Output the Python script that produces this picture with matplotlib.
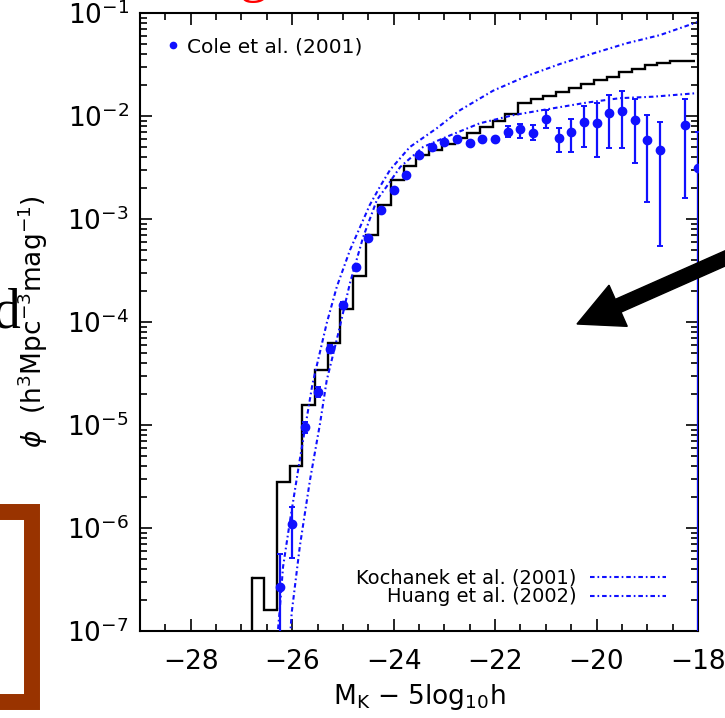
import matplotlib
matplotlib.use('Agg')
import matplotlib.pyplot as plt
from matplotlib.patches import FancyArrow
from matplotlib.lines import Line2D
import numpy as np

# model K-band luminosity function (histogram), bins of 0.25 mag
hist_start = -26.8
hist_width = 0.25
hist_phi = [3.3e-7, 1.6e-7, 2.8e-6, 4.0e-6, 1.56e-5, 3.4e-5, 6.3e-5, 1.34e-4,
            2.8e-4, 7.0e-4, 1.37e-3, 2.4e-3, 3.27e-3, 4.2e-3, 4.7e-3, 5.3e-3,
            6.1e-3, 6.9e-3, 7.8e-3, 8.9e-3, 1.05e-2, 1.33e-2, 1.45e-2, 1.56e-2,
            1.72e-2, 1.86e-2, 2.05e-2, 2.24e-2, 2.41e-2, 2.66e-2, 2.84e-2,
            3.13e-2, 3.24e-2, 3.39e-2, 3.39e-2]

# Cole et al. (2001) data points, with lower / upper error limits
cole_mag = [-26.25, -26.0, -25.75, -25.5, -25.25, -25.0, -24.75, -24.5, -24.25,
            -24.0, -23.75, -23.5, -23.25, -23.0, -22.75, -22.5, -22.25, -22.0,
            -21.75, -21.5, -21.25, -21.0, -20.75, -20.5, -20.25, -20.0, -19.75,
            -19.5, -19.25, -19.0, -18.75, -18.25, -18.0]
cole_phi = [2.7e-7, 1.09e-6, 9.6e-6, 2.1e-5, 5.5e-5, 1.46e-4, 3.4e-4, 6.5e-4,
            1.22e-3, 1.9e-3, 2.67e-3, 4.2e-3, 5.0e-3, 5.6e-3, 5.93e-3, 5.43e-3,
            5.93e-3, 5.93e-3, 7.04e-3, 7.43e-3, 6.9e-3, 9.3e-3, 6.07e-3, 7.04e-3,
            8.8e-3, 8.6e-3, 1.06e-2, 1.12e-2, 9.1e-3, 5.85e-3, 4.68e-3, 8.2e-3,
            3.1e-3]
cole_lo = [1e-9, 5.15e-7, 8.3e-6, 1.85e-5, 5.0e-5, 1.36e-4, 3.2e-4, 6.2e-4,
           1.17e-3, 1.82e-3, 2.55e-3, 4.0e-3, 4.8e-3, 5.4e-3, 5.7e-3, 5.2e-3,
           5.7e-3, 5.7e-3, 6.3e-3, 6.15e-3, 5.85e-3, 7.6e-3, 4.5e-3, 4.45e-3,
           5.04e-3, 3.97e-3, 4.85e-3, 4.85e-3, 3.47e-3, 1.45e-3, 5.5e-4, 1.61e-3,
           1e-9]
cole_hi = [5.6e-7, 1.6e-6, 1.08e-5, 2.35e-5, 6.0e-5, 1.56e-4, 3.6e-4, 6.8e-4,
           1.27e-3, 1.98e-3, 2.8e-3, 4.4e-3, 5.2e-3, 5.8e-3, 6.2e-3, 5.7e-3,
           6.2e-3, 6.2e-3, 8.0e-3, 8.36e-3, 8.2e-3, 1.14e-2, 7.6e-3, 9.35e-3,
           1.26e-2, 1.33e-2, 1.6e-2, 1.75e-2, 1.46e-2, 1.02e-2, 8.7e-3, 1.46e-2,
           7.0e-3]

# Schechter fits
kochanek_mag = [-26.04, -26.01, -25.85, -25.65, -25.45, -25.32, -25.09, -24.86,
                -24.6, -24.33, -24.14, -23.87, -23.42, -22.95, -22.3, -21.64,
                -21.12, -20.85, -20.19, -19.54, -18.88, -18.0]
kochanek_phi = [9e-8, 1.5e-7, 6.6e-7, 2.9e-6, 1.04e-5, 2.7e-5, 7.8e-5, 2.4e-4,
                6.7e-4, 1.53e-3, 2.06e-3, 3.2e-3, 5.0e-3, 6.3e-3, 8.5e-3, 1.02e-2,
                1.13e-2, 1.19e-2, 1.35e-2, 1.49e-2, 1.54e-2, 1.67e-2]
huang_mag = [-26.3, -26.25, -26.18, -26.04, -25.85, -25.6, -25.32, -25.12,
             -24.86, -24.47, -24.27, -24.07, -23.68, -23.15, -22.69, -22.04,
             -21.38, -20.72, -20.06, -19.41, -18.75, -18.0]
huang_phi = [8e-8, 1.5e-7, 4.2e-7, 1.2e-6, 4.6e-6, 2.5e-5, 9.7e-5, 2.2e-4, 5.0e-4,
             1.37e-3, 2.06e-3, 3.0e-3, 5.0e-3, 7.6e-3, 1.14e-2, 1.76e-2, 2.44e-2,
             3.2e-2, 4.06e-2, 5.08e-2, 6.1e-2, 8.2e-2]

blue = '#1010ff'

fig = plt.figure(figsize=(7.25, 7.18), dpi=100)
ax = fig.add_axes([140 / 725, 1 - 631 / 718, 558 / 725, 618 / 718])
ax.set_yscale('log')
ax.set_xlim(-29, -18)
ax.set_ylim(1e-7, 1e-1)

# histogram (step line, first edge dropped down to the axis)
edges = hist_start + hist_width * np.arange(len(hist_phi) + 1)
ax.stairs(hist_phi, edges, baseline=None, color='black', lw=1.7)
ax.plot([edges[0], edges[0]], [1e-7, hist_phi[0]], color='black', lw=1.7)

dash = (0, (2.2, 1.4, 0.8, 1.4))
k_line, = ax.plot(kochanek_mag, kochanek_phi, color=blue, lw=1.5, ls=dash,
                  label='Kochanek et al. (2001)')
h_line, = ax.plot(huang_mag, huang_phi, color=blue, lw=1.5, ls=dash,
                  label='Huang et al. (2002)')

cole_phi = np.array(cole_phi)
yerr = [cole_phi - np.array(cole_lo), np.array(cole_hi) - cole_phi]
ax.errorbar(cole_mag, cole_phi, yerr=yerr, fmt='o', color=blue, ms=6,
            elinewidth=1.6, capsize=2.5, capthick=1.4, zorder=3)

ax.tick_params(which='both', direction='in', top=True, right=True,
               labelsize=19, width=1.2)
ax.tick_params(axis='y', pad=8)
ax.tick_params(axis='x', pad=13)
ax.tick_params(which='major', length=8.5)
ax.tick_params(which='minor', length=5)
ax.xaxis.set_major_locator(plt.MultipleLocator(2))
ax.xaxis.set_minor_locator(plt.MultipleLocator(0.5))
for s in ax.spines.values():
    s.set_linewidth(1.5)

ax.set_xlabel(r'M$_{\rm K}$ $-$ 5log$_{10}$h', fontsize=19, labelpad=5)
ax.set_ylabel(r'$\phi$  (h$^3$Mpc$^{-3}$mag$^{-1}$)', fontsize=19, labelpad=12)

cole_handle = Line2D([], [], marker='o', ls='none', color=blue, ms=4.5)
leg1 = ax.legend([cole_handle], ['Cole et al. (2001)'], loc='upper left',
                 bbox_to_anchor=(0.03, 0.977), frameon=False, fontsize=14.5,
                 handlelength=0.6, handletextpad=0.4, borderpad=0)
ax.add_artist(leg1)
ax.legend(handles=[k_line, h_line], loc='lower right',
          bbox_to_anchor=(0.96, 0.024), frameon=False, fontsize=14,
          markerfirst=False, handlelength=3.9, handletextpad=0.7,
          labelspacing=0.0, borderpad=0)

# slide decorations around the chart
fig.text(0.33, 1.012, 'g', color='red', fontsize=40, family='Liberation Serif',
         va='baseline')
fig.text(-0.01, 1 - 328 / 718, 'd', color='black', fontsize=40,
         family='Liberation Serif', va='baseline')
fig.add_artist(Line2D([0, 32 / 725, 32 / 725, 0],
                      [1 - 512 / 718, 1 - 512 / 718, 1 - 702 / 718, 1 - 702 / 718],
                      transform=fig.transFigure, color='#993300', lw=11.5,
                      solid_joinstyle='miter', solid_capstyle='butt'))
fig.add_artist(FancyArrow(7.35, 4.64, -1.58, -0.70, width=0.14, head_width=0.45,
                          head_length=0.45, length_includes_head=True,
                          color='black', transform=fig.dpi_scale_trans))

fig.savefig('out.png', dpi=100)
